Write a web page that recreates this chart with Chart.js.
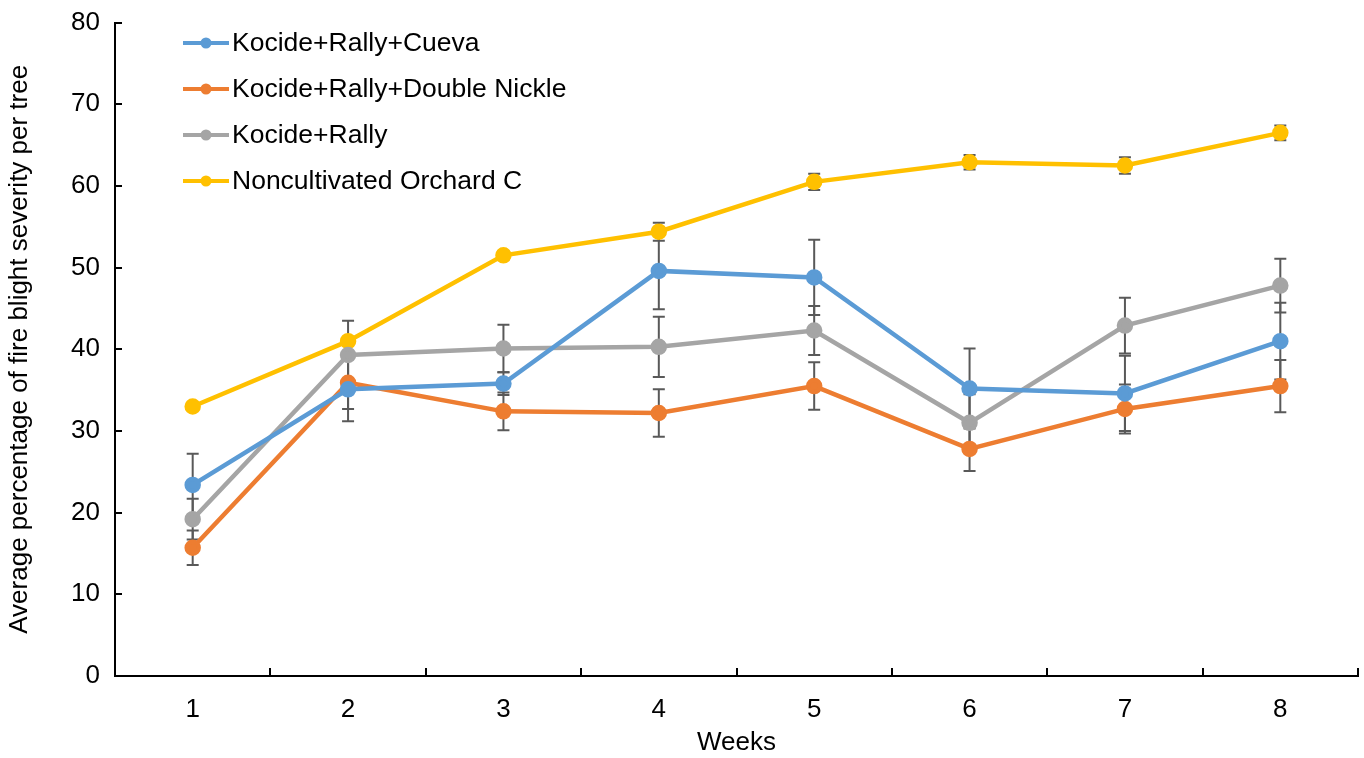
<!DOCTYPE html>
<html>
<head>
<meta charset="utf-8">
<script src="https://cdn.jsdelivr.net/npm/chart.js@4.4.1/dist/chart.umd.min.js"></script>
<style>
  html, body { margin: 0; padding: 0; background: #fff; }
  #wrap { width: 1364px; height: 758px; }
</style>
</head>
<body>
<div id="wrap"><canvas id="lineChart"></canvas></div>
<script>

const weeks = ["1", "2", "3", "4", "5", "6", "7", "8"];

const cuevaValues = [23.4, 35.1, 35.8, 49.6, 48.8, 35.2, 34.6, 41.0];
const cuevaErrors = [3.8, 3.9, 1.4, 4.7, 4.6, 4.9, 4.6, 4.7];

const nickleValues = [15.7, 35.9, 32.4, 32.2, 35.5, 27.8, 32.7, 35.5];
const nickleErrors = [2.1, 3.2, 2.3, 2.9, 2.9, 2.7, 3.0, 3.2];

const rallyValues = [19.2, 39.3, 40.1, 40.3, 42.3, 31.0, 42.9, 47.8];
const rallyErrors = [2.5, 4.2, 2.9, 3.7, 3.0, 3.5, 3.4, 3.3];

const orchardValues = [33.0, 41.0, 51.5, 54.4, 60.5, 62.9, 62.5, 66.5];
const orchardErrors = [0.3, 0.5, 0.5, 1.1, 1.0, 0.9, 1.0, 0.9];

const yTicks = [0, 10, 20, 30, 40, 50, 60, 70, 80];

const fontFamily = "'Liberation Sans', Arial, sans-serif";
const fontSize = 26;

function makeSeries(label, values, errors, color) {
  return {
    label: label,
    data: values,
    errors: errors,
    borderColor: color,
    backgroundColor: color,
    pointBackgroundColor: color,
    pointBorderColor: color,
    borderWidth: 4.5,
    pointRadius: 6,
    pointHoverRadius: 6,
    tension: 0,
    fill: false
  };
}

// error bars, drawn under the lines
const errorBars = {
  id: 'errorBars',
  beforeDatasetsDraw(chart) {
    const ctx = chart.ctx;
    const x = chart.scales.x;
    const y = chart.scales.y;
    ctx.save();
    ctx.strokeStyle = '#595959';
    ctx.lineWidth = 2;
    chart.data.datasets.forEach((ds) => {
      ds.data.forEach((v, i) => {
        const e = ds.errors[i];
        const px = x.getPixelForValue(i);
        const top = y.getPixelForValue(v + e);
        const bot = y.getPixelForValue(v - e);
        ctx.beginPath();
        ctx.moveTo(px, top); ctx.lineTo(px, bot);
        ctx.moveTo(px - 6, top); ctx.lineTo(px + 6, top);
        ctx.moveTo(px - 6, bot); ctx.lineTo(px + 6, bot);
        ctx.stroke();
      });
    });
    ctx.restore();
  }
};

// inward tick marks on both axes
const insideTicks = {
  id: 'insideTicks',
  afterDraw(chart) {
    const ctx = chart.ctx;
    const x = chart.scales.x;
    const y = chart.scales.y;
    const area = chart.chartArea;
    ctx.save();
    ctx.strokeStyle = '#000';
    ctx.lineWidth = 2;
    ctx.beginPath();
    y.ticks.forEach((t, i) => {
      const py = Math.round(y.getPixelForTick(i));
      ctx.moveTo(area.left, py);
      ctx.lineTo(area.left + 7, py);
    });
    for (let i = 1; i <= weeks.length; i++) {
      const px = i < weeks.length
        ? (x.getPixelForValue(i - 1) + x.getPixelForValue(i)) / 2
        : area.right;
      ctx.moveTo(Math.round(px), area.bottom);
      ctx.lineTo(Math.round(px), area.bottom - 8);
    }
    ctx.stroke();
    ctx.restore();
  }
};

// legend inside the plot, top left
const insideLegend = {
  id: 'insideLegend',
  afterDraw(chart) {
    const ctx = chart.ctx;
    const left = 183;
    const top = 43;
    const step = 46;
    ctx.save();
    ctx.font = '26.5px ' + fontFamily;
    ctx.textBaseline = 'middle';
    chart.data.datasets.forEach((ds, i) => {
      const ly = top + i * step;
      ctx.strokeStyle = ds.borderColor;
      ctx.lineWidth = 4;
      ctx.beginPath();
      ctx.moveTo(left, ly);
      ctx.lineTo(left + 46, ly);
      ctx.stroke();
      ctx.fillStyle = ds.borderColor;
      ctx.beginPath();
      ctx.arc(left + 23, ly, 5.5, 0, Math.PI * 2);
      ctx.fill();
      ctx.fillStyle = '#000';
      ctx.fillText(ds.label, left + 49, ly + 1);
    });
    ctx.restore();
  }
};

const lineData = {
  labels: weeks,
  datasets: [
    makeSeries('Kocide+Rally+Cueva', cuevaValues, cuevaErrors, '#5B9BD5'),
    makeSeries('Kocide+Rally+Double Nickle', nickleValues, nickleErrors, '#ED7D31'),
    makeSeries('Kocide+Rally', rallyValues, rallyErrors, '#A5A5A5'),
    makeSeries('Noncultivated Orchard C', orchardValues, orchardErrors, '#FFC000')
  ]
};

const lineOptions = {
  responsive: true,
  maintainAspectRatio: false,
  animation: false,
  layout: { autoPadding: false, padding: { top: 9, right: 6, left: 4, bottom: 0 } },
  plugins: {
    legend: { display: false },
    tooltip: { enabled: false }
  },
  scales: {
    x: {
      type: 'category',
      offset: true,
      grid: { display: false, offset: true },
      border: { display: true, color: '#000', width: 2 },
      ticks: { color: '#000', font: { family: fontFamily, size: fontSize }, padding: 10, maxRotation: 0 },
      title: { display: true, text: 'Weeks', color: '#000', font: { family: fontFamily, size: fontSize }, padding: { top: 4, bottom: 0 } },
      afterFit(scale) { scale.height = 82; }
    },
    y: {
      min: 0,
      max: 80,
      afterBuildTicks(scale) { scale.ticks = yTicks.map(v => ({ value: v })); },
      grid: { display: false },
      border: { display: true, color: '#000', width: 2 },
      ticks: { color: '#000', font: { family: fontFamily, size: fontSize }, padding: 7 },
      title: { display: true, text: 'Average percentage of fire blight severity per tree', color: '#000', font: { family: fontFamily, size: fontSize }, padding: { top: 0, bottom: 0 } },
      afterFit(scale) { scale.width = 111; }
    }
  }
};

const lineCanvas = document.getElementById('lineChart').getContext('2d');
const lineChart = new Chart(lineCanvas, {
  type: 'line',
  data: lineData,
  options: lineOptions,
  plugins: [errorBars, insideTicks, insideLegend]
});

</script>
</body>
</html>
